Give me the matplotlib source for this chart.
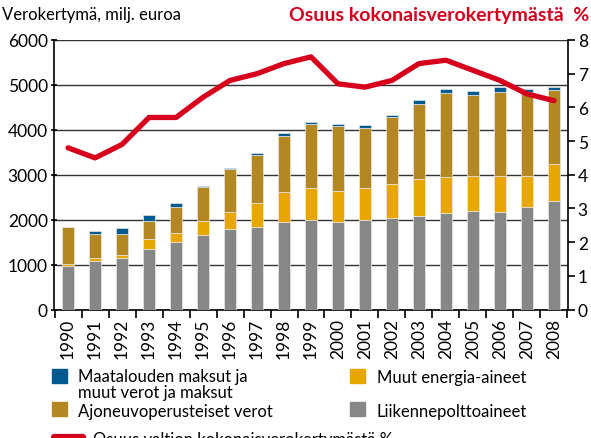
import matplotlib
matplotlib.use("Agg")
import matplotlib.pyplot as plt
import numpy as np
from matplotlib.patches import Rectangle
from matplotlib.lines import Line2D

plt.rcParams['font.family'] = ['Lato', 'DejaVu Sans']

years = [str(y) for y in range(1990, 2009)]
# cumulative tops
liikenne = [962, 1075, 1154, 1354, 1496, 1667, 1786, 1831, 1955, 1993, 1956, 1993, 2045, 2082, 2156, 2201, 2178, 2290, 2416]
muut_energia_top = [1007, 1140, 1221, 1563, 1703, 1978, 2178, 2379, 2617, 2699, 2632, 2699, 2795, 2906, 2951, 2973, 2980, 2980, 3240]
ajoneuvo_top = [1844, 1675, 1689, 1978, 2283, 2735, 3122, 3448, 3871, 4124, 4087, 4042, 4280, 4577, 4822, 4784, 4844, 4837, 4888]
maatalous_top = [1844, 1748, 1823, 2098, 2365, 2757, 3151, 3479, 3924, 4169, 4139, 4102, 4339, 4666, 4904, 4874, 4948, 4911, 4962]
osuus = [4.8, 4.5, 4.9, 5.7, 5.7, 6.3, 6.8, 7.0, 7.3, 7.5, 6.7, 6.6, 6.8, 7.3, 7.4, 7.1, 6.8, 6.4, 6.2]

muut_energia = np.array(muut_energia_top) - np.array(liikenne)
ajoneuvo = np.array(ajoneuvo_top) - np.array(muut_energia_top)
maatalous = np.array(maatalous_top) - np.array(ajoneuvo_top)

c_gray = '#878787'
c_yellow = '#E8A700'
c_brown = '#B38722'
c_blue = '#005A8E'
c_red = '#D6001C'

W, H = 591, 439
fig = plt.figure(figsize=(W/100, H/100), dpi=100)
ax = fig.add_axes([54/W, 1-310.5/H, (568-54)/W, (310.5-41)/H])

x = np.arange(len(years))
w = 0.42
ec = '#e8e8e8'
ax.bar(x, liikenne, w, color=c_gray, edgecolor=ec, linewidth=0.5, zorder=3)
ax.bar(x, muut_energia, w, bottom=liikenne, color=c_yellow, edgecolor=ec, linewidth=0.5, zorder=3)
ax.bar(x, ajoneuvo, w, bottom=muut_energia_top, color=c_brown, edgecolor=ec, linewidth=0.5, zorder=3)
ax.bar(x, maatalous, w, bottom=ajoneuvo_top, color=c_blue, edgecolor=ec, linewidth=0.5, zorder=3)

ax.set_xlim(-0.52, len(years) - 0.48)
ax.set_ylim(0, 6000)
ax.set_yticks(range(0, 6001, 1000))
ax.yaxis.grid(True, color='#333333', linewidth=1.0, zorder=0)
ax.set_axisbelow(True)
ax.set_xticks(np.arange(len(years) + 1) - 0.5)
ax.set_xticklabels([])
ax.set_xticks(x, minor=True)
ax.set_xticklabels(years, minor=True, rotation=90, fontsize=12.5)
ax.tick_params(axis='x', which='minor', length=0, pad=6)
ax.tick_params(axis='x', which='major', length=6, width=1.2, direction='out')
ax.tick_params(axis='y', length=5, width=1.2, direction='inout', labelsize=12.5, pad=2)
for s in ['left', 'bottom', 'right', 'top']:
    ax.spines[s].set_linewidth(1.2)
ax.spines['top'].set_visible(False)

ax2 = ax.twinx()
ax2.plot(x, osuus, color=c_red, linewidth=3.8, solid_capstyle='round', solid_joinstyle='round', zorder=5)
ax2.set_ylim(0, 8)
ax2.set_yticks(range(0, 9))
ax2.tick_params(axis='y', length=5, width=1.2, direction='out', labelsize=12.5, pad=2)
for s in ['left', 'bottom', 'right', 'top']:
    ax2.spines[s].set_visible(False)

fig.text(2/W, 1-15/H, 'Verokertymä, milj. euroa', fontsize=12, ha='left', va='center')
fig.text(589/W, 1-15/H, 'Osuus kokonaisverokertymästä  %', fontsize=14, ha='right', va='center',
         color=c_red, fontweight='bold')

# manual legend
def sq(x0, y0, color):
    fig.add_artist(Rectangle((x0/W, 1-(y0+14)/H), 15/W, 14/H, color=color, transform=fig.transFigure))

def lbl(x0, yc, s):
    fig.text(x0/W, 1-yc/H, s, fontsize=12, ha='left', va='center', linespacing=1.0)

sq(52, 370, c_blue)
lbl(78, 385, 'Maatalouden maksut ja\nmuut verot ja maksut')
sq(52, 403, c_brown)
lbl(78, 412, 'Ajoneuvoperusteiset verot')
sq(350, 370, c_yellow)
lbl(377, 378, 'Muut energia-aineet')
sq(350, 403, c_gray)
lbl(377, 412, 'Liikennepolttoaineet')
fig.add_artist(Line2D([54/W, 83/W], [1-438/H, 1-438/H], color=c_red, linewidth=4.5,
                      solid_capstyle='round', transform=fig.transFigure))
lbl(93, 440, 'Osuus valtion kokonaisverokertymästä %')

fig.savefig('out.png', dpi=100)
